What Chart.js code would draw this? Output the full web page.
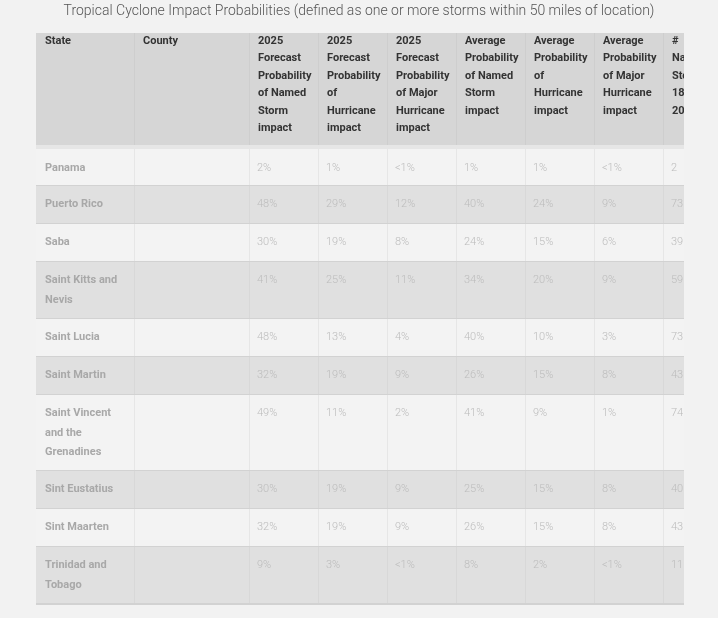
<!DOCTYPE html>
<html><head><meta charset="utf-8">
<script src="https://cdn.jsdelivr.net/npm/chart.js@4/dist/chart.umd.min.js"></script>
<style>html,body{margin:0;padding:0;background:#f2f2f2}#w{width:718px;height:618px}</style>
</head><body><div id="w"><canvas id="c"></canvas></div>
<script>
const title = "Tropical Cyclone Impact Probabilities (defined as one or more storms within 50 miles of location)";
const headers = [
  ["State"],["County"],
  ["2025","Forecast","Probability","of Named","Storm","impact"],
  ["2025","Forecast","Probability","of","Hurricane","impact"],
  ["2025","Forecast","Probability","of Major","Hurricane","impact"],
  ["Average","Probability","of Named","Storm","impact"],
  ["Average","Probability","of","Hurricane","impact"],
  ["Average","Probability","of Major","Hurricane","impact"],
  ["#","Named","Storms","1880-","2024"]
];
const states = [["Panama"],["Puerto Rico"],["Saba"],["Saint Kitts and","Nevis"],["Saint Lucia"],["Saint Martin"],["Saint Vincent","and the","Grenadines"],["Sint Eustatius"],["Sint Maarten"],["Trinidad and","Tobago"]];
const counties = ["","","","","","","","","",""];
const forecastNamed = ["2%","48%","30%","41%","48%","32%","49%","30%","32%","9%"];
const forecastHurr  = ["1%","29%","19%","25%","13%","19%","11%","19%","19%","3%"];
const forecastMajor = ["<1%","12%","8%","11%","4%","9%","2%","9%","9%","<1%"];
const avgNamed = ["1%","40%","24%","34%","40%","26%","41%","25%","26%","8%"];
const avgHurr  = ["1%","24%","15%","20%","10%","15%","9%","15%","15%","2%"];
const avgMajor = ["<1%","9%","6%","9%","3%","8%","1%","8%","8%","<1%"];
const namedStorms = ["2","73","39","59","73","43","74","40","43","11"];

const colX = [36,134,249,318,387,456,525,594,663];
const tableRight = 684;
const plugin = {
  id:'table',
  beforeDraw(ch){
    const ctx = ch.ctx, xs = ch.scales.x, ys = ch.scales.y;
    const X = v=>xs.getPixelForValue(v), Y = v=>ys.getPixelForValue(v);
    ctx.save();
    ctx.fillStyle='#f2f2f2'; ctx.fillRect(0,0,ch.width,ch.height);
    ctx.beginPath(); ctx.rect(X(0),Y(0),X(tableRight)-X(0),Y(618)-Y(0)); ctx.clip();
    ctx.restore(); ctx.save();
    // title
    ctx.fillStyle='#555'; ctx.font='300 14px Roboto'; ctx.textAlign='center'; ctx.textBaseline='middle';
    ctx.fillText(title, X(359), Y(11));
    ctx.beginPath(); ctx.rect(X(36),Y(0),X(tableRight)-X(36),Y(618)); ctx.clip();
    // header
    ctx.fillStyle='#d6d6d6'; ctx.fillRect(X(36),Y(33),X(tableRight)-X(36),Y(145)-Y(33));
    ctx.fillStyle='#e6e6e6'; ctx.fillRect(X(36),Y(145),X(tableRight)-X(36),Y(149)-Y(145));
    ctx.strokeStyle='#cecece'; ctx.lineWidth=1;
    for(let i=1;i<colX.length;i++){ctx.beginPath();ctx.moveTo(X(colX[i])+0.5,Y(33));ctx.lineTo(X(colX[i])+0.5,Y(145));ctx.stroke();}
    ctx.fillStyle='#333'; ctx.font='bold 11px Roboto'; ctx.textAlign='left';
    headers.forEach((h,i)=>h.forEach((l,j)=>ctx.fillText(l,X(colX[i]+9),Y(41+j*17.5))));
    // rows
    const cols=[counties,forecastNamed,forecastHurr,forecastMajor,avgNamed,avgHurr,avgMajor,namedStorms];
    let top=149;
    states.forEach((s,r)=>{
      const h = r===0?37:19*(s.length+1);
      ctx.fillStyle = r%2? '#e0e0e0':'#f3f3f3';
      ctx.fillRect(X(36),Y(top),X(tableRight)-X(36),Y(top+h)-Y(top));
      ctx.strokeStyle = r%2? '#d8d8d8':'#e6e6e6';
      for(let i=1;i<colX.length;i++){ctx.beginPath();ctx.moveTo(X(colX[i])+0.5,Y(top));ctx.lineTo(X(colX[i])+0.5,Y(top+h));ctx.stroke();}
      ctx.fillStyle='#d2d2d2'; ctx.fillRect(X(36),Y(top+h-1),X(tableRight)-X(36),2);
      const cy = top + (r===0?19:18.5);
      ctx.fillStyle='#a8a8a8'; ctx.font='bold 11px Roboto';
      s.forEach((l,j)=>ctx.fillText(l,X(colX[0]+9),Y(cy+j*19.5)));
      ctx.fillStyle='#bcbcbc'; ctx.font='300 11px Roboto';
      cols.forEach((c,i)=>ctx.fillText(c[r],X(colX[i+1]+8),Y(cy)));
      top+=h;
    });
    ctx.restore();
  }
};
new Chart(document.getElementById('c'),{
  type:'scatter',
  data:{datasets:[{data:[],showLine:false}]},
  options:{responsive:true,maintainAspectRatio:false,animation:false,
    layout:{padding:0},
    plugins:{legend:{display:false},tooltip:{enabled:false},title:{display:false}},
    scales:{x:{type:'linear',min:0,max:718,display:false},y:{type:'linear',min:0,max:618,reverse:true,display:false}}},
  plugins:[plugin]
});
</script></body></html>
